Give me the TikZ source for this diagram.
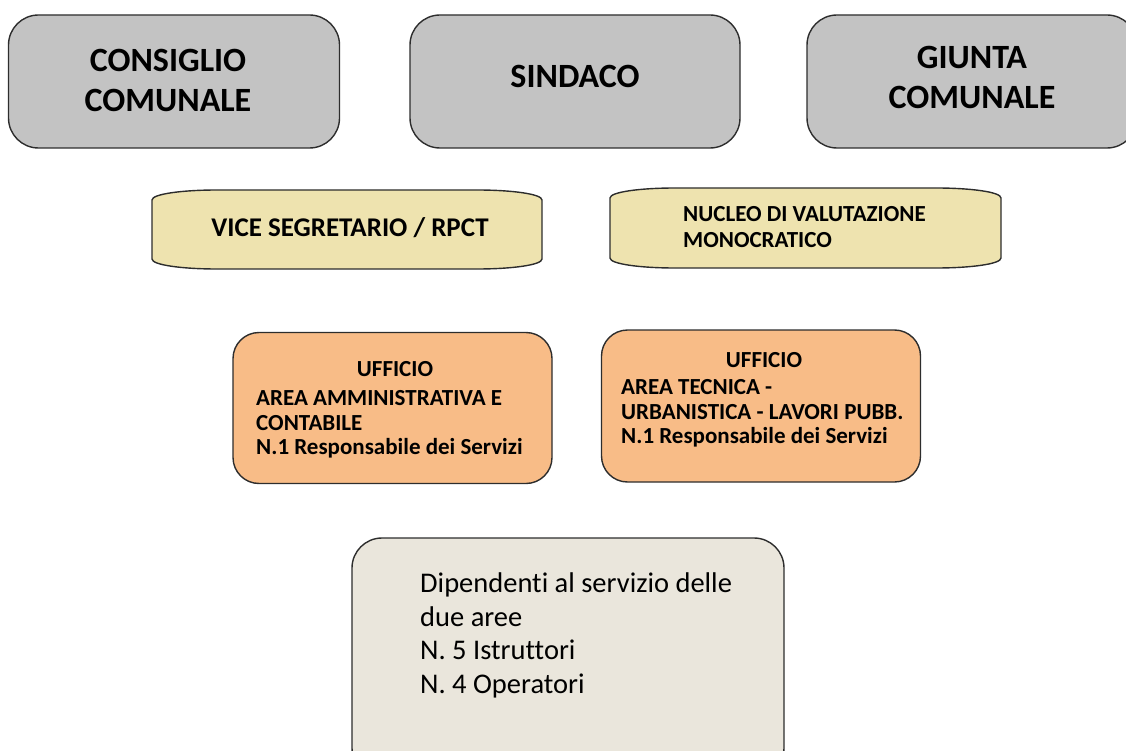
\documentclass[tikz,border=0pt]{standalone}
\usepackage{fontspec}
\setmainfont{Carlito}[Ligatures=CommonOff]
\definecolor{grayfill}{RGB}{195,195,195}
\definecolor{edge}{RGB}{45,45,45}
\definecolor{yelfill}{RGB}{238,227,175}
\definecolor{orfill}{RGB}{248,188,135}
\definecolor{depfill}{RGB}{234,230,220}
\tikzset{
  graybox/.style={draw=edge, line width=1.4pt, fill=grayfill, rounded corners=30pt, inner sep=0pt},
  orbox/.style={draw=edge, line width=1.4pt, fill=orfill, rounded corners=26pt, inner sep=0pt},
  depbox/.style={draw=edge, line width=1.4pt, fill=depfill, rounded corners=30pt, inner sep=0pt},
  bigtxt/.style={inner sep=0pt, align=center, font=\fontsize{34}{40}\selectfont\bfseries},
  midtxt/.style={inner sep=0pt, align=center, font=\fontsize{27}{32}\selectfont\bfseries},
  smltxt/.style={inner sep=0pt, align=left, font=\fontsize{23}{26.5}\selectfont\bfseries},
  ufftxt/.style={inner sep=0pt, align=left, font=\fontsize{23}{24.8}\selectfont\bfseries},
  deptxt/.style={inner sep=0pt, align=left, font=\fontsize{28.5}{33.5}\selectfont},
  barrel/.style={draw=edge, line width=1.4pt, fill=yelfill}
}
\newcommand{\barrelpath}[4]{% x1,y1,x2,y2
  \path[barrel] (#1,#2+10) .. controls (#1,#2+4) and (#1+30,#2) .. (#1+65,#2)
    -- (#3-65,#2) .. controls (#3-30,#2) and (#3,#2+4) .. (#3,#2+10)
    -- (#3,#4-10) .. controls (#3,#4-4) and (#3-30,#4) .. (#3-65,#4)
    -- (#1+65,#4) .. controls (#1+30,#4) and (#1,#4-4) .. (#1,#4-10) -- cycle;}
\begin{document}
\begin{tikzpicture}[x=1pt,y=-1pt]
\useasboundingbox (0,0) rectangle (1126,751);
\begin{scope}
\clip (0,0) rectangle (1126,751);
% top row
\node[graybox, minimum width=331pt, minimum height=133pt] (cons) at (174,81.5) {};
\node[bigtxt] (consT) at (168,80) {CONSIGLIO\\COMUNALE};
\node[graybox, minimum width=330pt, minimum height=133pt] (sind) at (575,81.5) {};
\node[bigtxt] (sindT) at (575,76) {SINDACO};
\node[graybox, minimum width=330pt, minimum height=133pt] (giun) at (972,81.5) {};
\node[bigtxt] (giunT) at (972,77) {GIUNTA\\COMUNALE};
% second row
\barrelpath{152}{190}{542}{269}
\node[midtxt] (vice) at (350,228) {VICE SEGRETARIO / RPCT};
\barrelpath{610}{188}{1001}{268}
\node[smltxt, anchor=west] (nucl) at (683,227) {NUCLEO DI VALUTAZIONE\\MONOCRATICO};
% third row
\node[orbox, minimum width=319pt, minimum height=151pt] (uff1) at (392.5,408) {};
\node[ufftxt] (uff1a) at (395,369) {UFFICIO};
\node[ufftxt, anchor=north west] (uff1b) at (256,390) {AREA AMMINISTRATIVA E\\CONTABILE\\N.1 Responsabile dei Servizi};
\node[orbox, minimum width=319pt, minimum height=152pt] (uff2) at (761,406) {};
\node[ufftxt] (uff2a) at (764,360) {UFFICIO};
\node[ufftxt, anchor=north west] (uff2b) at (621,379) {AREA TECNICA -\\URBANISTICA - LAVORI PUBB.\\N.1 Responsabile dei Servizi};
% bottom
\node[depbox, minimum width=432pt, minimum height=240pt] (dip) at (568,658) {};
\node[deptxt, anchor=north west] (dipT) at (420,573) {Dipendenti al servizio delle\\due aree\\N. 5 Istruttori\\N. 4 Operatori};
\end{scope}
\end{tikzpicture}
\end{document}
